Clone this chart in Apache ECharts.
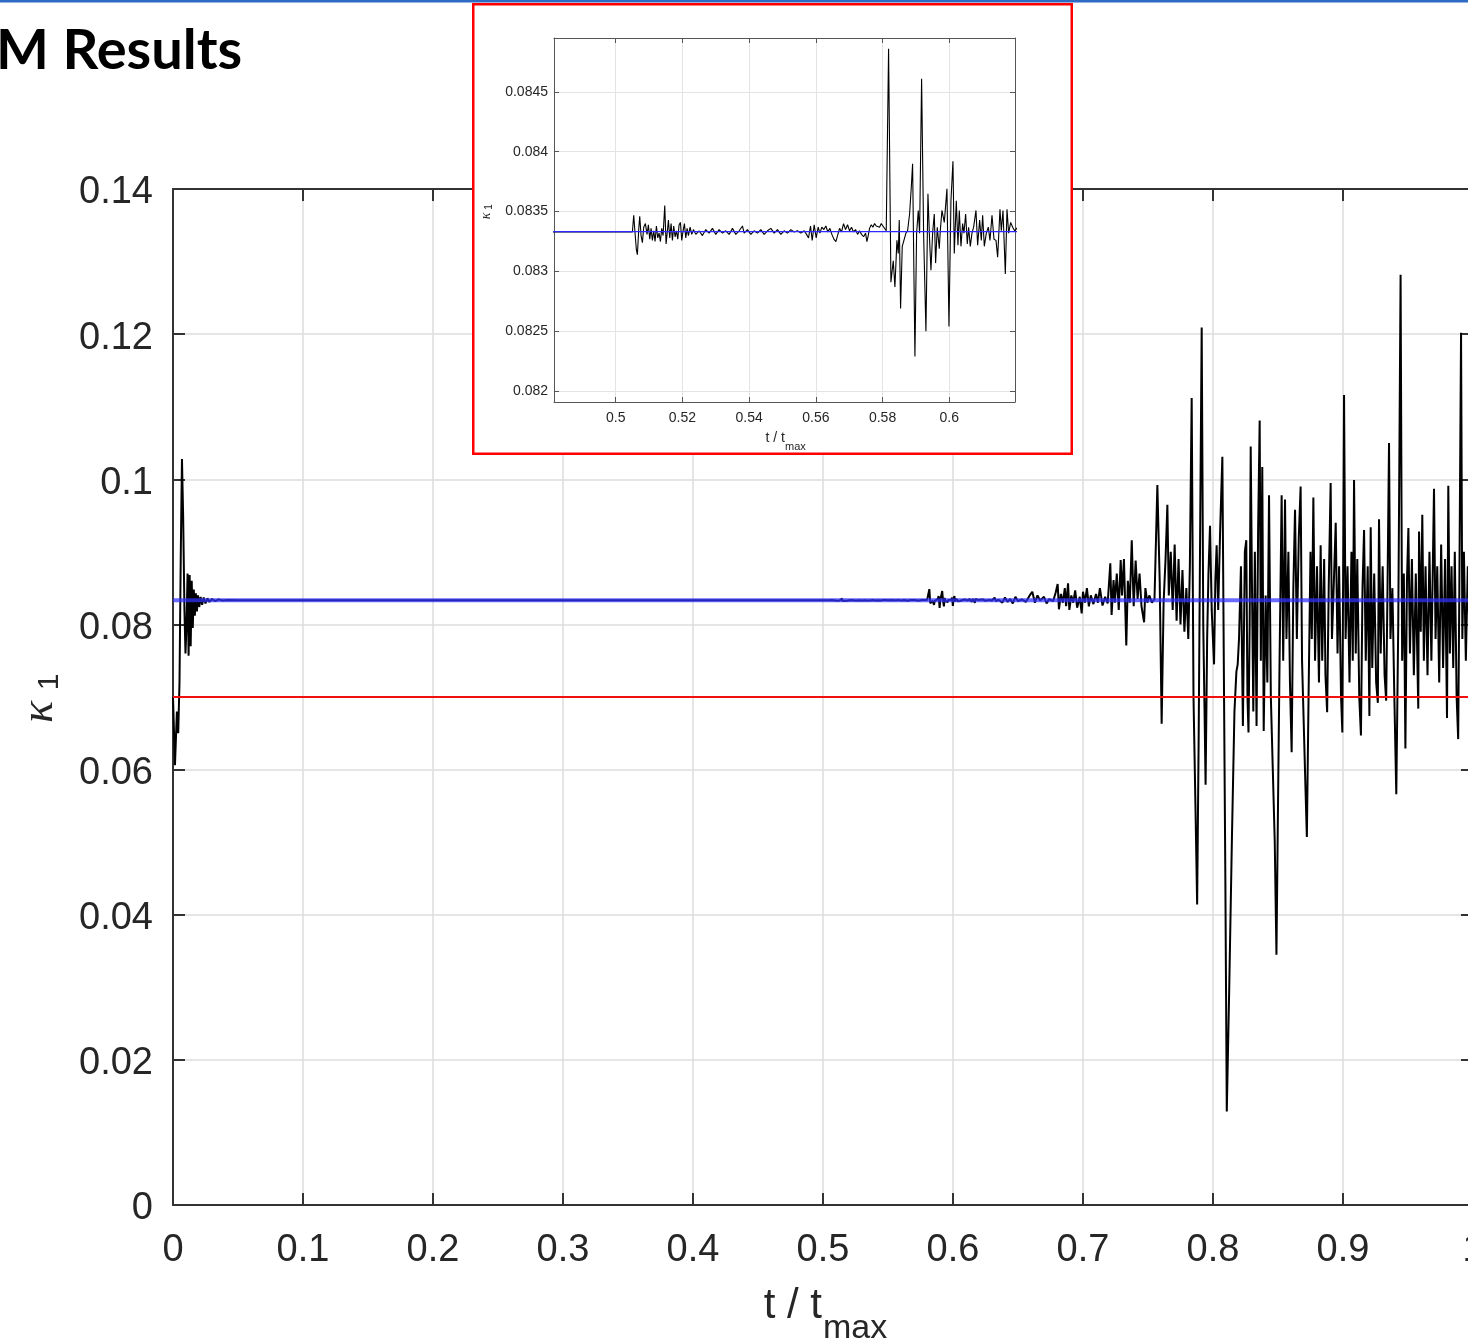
<!DOCTYPE html>
<html>
<head>
<meta charset="utf-8">
<script src="https://cdn.jsdelivr.net/npm/echarts@6/dist/echarts.min.js"></script>
<style>
html,body{margin:0;padding:0;background:#fff;}
#chart{width:1468px;height:1343px;}
</style>
</head>
<body>
<div id="chart"></div>
<script>
// ---- data ----
const kappaTrue = 0.083333;   // blue reference line
const kappaInit = 0.07;       // red line

// early transient (t/tmax, kappa1)
const kappaStart = [[0,0.0700],[0.0015,0.0606],[0.0030,0.0680],[0.0040,0.0650],[0.0050,0.0720],[0.0060,0.0900],[0.0069,0.1028],[0.0078,0.0950],[0.0088,0.0820],[0.0096,0.0760],[0.0104,0.0800],[0.0112,0.0870],[0.0120,0.0757],[0.0128,0.0868],[0.0136,0.0770],[0.0144,0.0860],[0.0152,0.0795],[0.0160,0.0848],[0.0168,0.0812],[0.0176,0.0843],[0.0184,0.0818],[0.0192,0.0840],[0.0202,0.0824],[0.0212,0.0838],[0.0224,0.0827],[0.0236,0.0837],[0.0250,0.0829],[0.0265,0.0836],[0.0280,0.0831],[0.0300,0.0835],[0.0325,0.0832],[0.0350,0.08345],[0.0380,0.0833],[0.0420,0.08336],[0.0500,0.08333]];

// converged plateau
const kappaFlat = [[0.1,0.08333],[0.2,0.08333],[0.3,0.08333],[0.4,0.08333],[0.5,0.08333],[0.505,0.08333]];

// region shown in the inset
const kappaInsetRange = [[0.5054,0.08347],[0.5058,0.08332],[0.5062,0.08318],[0.5065,0.08314],[0.5069,0.08335],[0.5072,0.08346],[0.5076,0.08330],[0.5080,0.08324],[0.5084,0.08337],[0.5089,0.08340],[0.5094,0.08331],[0.5098,0.08339],[0.5102,0.08327],[0.5106,0.08336],[0.5110,0.08326],[0.5114,0.08334],[0.5118,0.08325],[0.5122,0.08338],[0.5126,0.08328],[0.5130,0.08332],[0.5134,0.08325],[0.5138,0.08336],[0.5142,0.08330],[0.5147,0.08355],[0.5151,0.08323],[0.5155,0.08334],[0.5158,0.08343],[0.5162,0.08328],[0.5166,0.08340],[0.5170,0.08326],[0.5174,0.08338],[0.5178,0.08329],[0.5182,0.08334],[0.5186,0.08327],[0.5190,0.08339],[0.5194,0.08341],[0.5198,0.08326],[0.5202,0.08334],[0.5206,0.08340],[0.5210,0.08328],[0.5214,0.08336],[0.5218,0.08330],[0.5223,0.08337],[0.5228,0.08331],[0.5233,0.08335],
[0.5240,0.08331],[0.5250,0.08334],[0.5260,0.08330],[0.5270,0.08335],[0.5280,0.08332],[0.5290,0.08336],[0.5300,0.08331],[0.5310,0.08335],[0.5320,0.08332],[0.5330,0.08334],[0.5340,0.08331],[0.5350,0.08336],[0.5360,0.08331],[0.5370,0.08334],[0.5380,0.08338],[0.5385,0.08332],[0.5395,0.08335],[0.5405,0.08331],[0.5415,0.08334],[0.5425,0.08332],[0.5435,0.08335],[0.5445,0.08331],[0.5455,0.08334],[0.5465,0.08336],[0.5475,0.08332],[0.5485,0.08335],[0.5495,0.08331],[0.5505,0.08334],[0.5515,0.08332],[0.5525,0.08335],[0.5535,0.08333],[0.5545,0.08334],[0.5555,0.08332],[0.5565,0.08334],[0.5572,0.08331],
[0.5578,0.08328],[0.5584,0.08338],[0.5589,0.08326],[0.5595,0.08339],[0.5601,0.08328],[0.5607,0.08337],[0.5612,0.08332],[0.5618,0.08337],[0.5624,0.08335],[0.5630,0.08338],[0.5636,0.08333],[0.5642,0.08336],[0.5648,0.08331],[0.5654,0.08327],[0.5660,0.08325],[0.5665,0.08330],[0.5671,0.08336],[0.5677,0.08333],[0.5683,0.08340],[0.5689,0.08335],[0.5695,0.08339],[0.5701,0.08334],[0.5707,0.08337],[0.5713,0.08333],[0.5719,0.08335],[0.5725,0.08331],[0.5731,0.08334],[0.5737,0.08331],[0.5743,0.08329],[0.5749,0.08332],[0.5753,0.08325],[0.5757,0.08330],[0.5761,0.08336],[0.5766,0.08339],[0.5771,0.08337],[0.5776,0.08340],[0.5781,0.08338],[0.5786,0.08339],[0.5791,0.08337],[0.5796,0.08340],[0.5801,0.08338],[0.5806,0.08339],[0.5811,0.08334],[0.5815,0.08333],
[0.5818,0.08486],[0.5825,0.08291],[0.5832,0.08309],[0.5837,0.08287],[0.5843,0.08326],[0.5847,0.08315],[0.5850,0.08343],[0.5854,0.08269],[0.5859,0.08321],[0.5864,0.08326],[0.5870,0.08332],[0.5875,0.08334],[0.5881,0.08348],[0.5886,0.08370],[0.5890,0.08390],[0.5894,0.08390],[0.5897,0.08229],[0.5902,0.08332],[0.5907,0.08351],[0.5911,0.08332],[0.5917,0.08461],[0.5923,0.08332],[0.5930,0.08250],[0.5936,0.08365],[0.5941,0.08326],[0.5945,0.08301],[0.5950,0.08332],[0.5955,0.08348],[0.5959,0.08307],[0.5964,0.08337],[0.5970,0.08319],[0.5973,0.08334],[0.5978,0.08351],[0.5985,0.08341],[0.5993,0.08369],[0.5999,0.08254],[0.6005,0.08359],[0.6011,0.08392],[0.6015,0.08315],[0.6021,0.08359],[0.6026,0.08322],[0.6030,0.08351],[0.6035,0.08321],[0.6040,0.08340],[0.6044,0.08332],[0.6049,0.08348],[0.6054,0.08323],[0.6058,0.08337],[0.6063,0.08321],[0.6068,0.08332],[0.6073,0.08337],[0.6080,0.08351],[0.6085,0.08322],[0.6091,0.08343],[0.6096,0.08326],[0.6100,0.08347],[0.6105,0.08321],[0.6111,0.08332],[0.6117,0.08337],[0.6122,0.08326],[0.6128,0.08347],[0.6134,0.08327],[0.6140,0.08326],[0.6145,0.08312],[0.6152,0.08352],[0.6156,0.08334],[0.6161,0.08351],[0.6168,0.08298],[0.6173,0.08352],[0.6178,0.08332],[0.6184,0.08341],[0.6190,0.08337],[0.6196,0.08334]];

// moderate noise
const kappaMid = [[0.6200,0.08335],[0.6230,0.08345],[0.6250,0.08325],[0.6280,0.08338],[0.6300,0.08330],[0.6320,0.08370],[0.6330,0.08320],[0.6350,0.08340],[0.6380,0.08300],[0.6400,0.08370],[0.6420,0.08310],[0.6440,0.08350],[0.6460,0.08290],[0.6480,0.08380],[0.6500,0.08320],[0.6530,0.08345],[0.6560,0.08310],[0.6590,0.08400],[0.6610,0.08450],[0.6630,0.08300],[0.6650,0.08400],[0.6670,0.08330],[0.6700,0.08380],[0.6720,0.08290],[0.6740,0.08350],[0.6770,0.08320],[0.6790,0.08440],[0.6805,0.08557],[0.6815,0.08209],[0.6830,0.08420],[0.6845,0.08300],[0.6860,0.08500],[0.6870,0.08250],[0.6885,0.08567],[0.6895,0.08199],[0.6910,0.08400],[0.6925,0.08300],[0.6940,0.08470],[0.6955,0.08230],[0.6975,0.08380],[0.6990,0.08153],[0.7000,0.08450],[0.7015,0.08300],[0.7030,0.08500],[0.7045,0.08250],[0.7060,0.08400],[0.7080,0.08280],[0.7100,0.08420],[0.7115,0.08300],[0.7130,0.08500],[0.7150,0.08260],[0.7170,0.08380],[0.7190,0.08290],[0.7210,0.08842],[0.7220,0.08130],[0.7235,0.08612],[0.7245,0.08300],[0.7260,0.08700],[0.7275,0.08200],[0.7290,0.08888],[0.7300,0.08400],[0.7315,0.08900],[0.7333,0.07710],[0.7345,0.08600],[0.7360,0.08300],[0.7375,0.09160],[0.7390,0.08250],[0.7405,0.08880],[0.7420,0.08350],[0.7435,0.08700],[0.7450,0.08250],[0.7470,0.08030],[0.7480,0.08500],[0.7495,0.08300],[0.7510,0.08400],[0.7530,0.08300],[0.7550,0.08350]];

// strong oscillation
const kappaLate = [[0.7572,0.09920],[0.7590,0.08600],[0.7605,0.06630],[0.7620,0.08300],[0.7635,0.08900],[0.7649,0.09650],[0.7660,0.08400],[0.7675,0.09000],[0.7690,0.08200],[0.7705,0.09100],[0.7720,0.08050],[0.7735,0.08900],[0.7750,0.08000],[0.7765,0.08750],[0.7780,0.07900],[0.7795,0.08500],[0.7810,0.07800],[0.7822,0.08800],[0.7836,0.11120],[0.7850,0.07000],[0.7865,0.05500],[0.7878,0.04140],[0.7890,0.06500],[0.7902,0.09500],[0.7913,0.12090],[0.7925,0.08000],[0.7935,0.06800],[0.7943,0.05790],[0.7955,0.07800],[0.7965,0.08700],[0.7977,0.09360],[0.7990,0.08200],[0.8008,0.07450],[0.8018,0.08600],[0.8028,0.09090],[0.8040,0.08200],[0.8055,0.09300],[0.8072,0.10310],[0.8085,0.07000],[0.8095,0.04500],[0.8106,0.01290],[0.8125,0.03000],[0.8145,0.05000],[0.8165,0.06800],[0.8180,0.07350],[0.8190,0.07450],[0.8200,0.07800],[0.8215,0.08800],[0.8230,0.06600],[0.8245,0.09000],[0.8256,0.09160],[0.8265,0.07000],[0.8273,0.06510],[0.8282,0.08000],[0.8290,0.10450],[0.8300,0.08500],[0.8310,0.06800],[0.8322,0.09000],[0.8335,0.06600],[0.8347,0.09300],[0.8359,0.10810],[0.8368,0.07500],[0.8379,0.10170],[0.8390,0.06530],[0.8405,0.08400],[0.8418,0.07200],[0.8431,0.09780],[0.8445,0.07000],[0.8460,0.06000],[0.8475,0.05000],[0.8488,0.03450],[0.8500,0.05500],[0.8512,0.07500],[0.8528,0.09780],[0.8540,0.07500],[0.8554,0.09720],[0.8565,0.07800],[0.8580,0.09000],[0.8592,0.07200],[0.8605,0.06240],[0.8618,0.08500],[0.8631,0.09580],[0.8645,0.07800],[0.8660,0.09200],[0.8674,0.09900],[0.8685,0.07500],[0.8700,0.06500],[0.8712,0.05700],[0.8722,0.05070],[0.8735,0.07000],[0.8750,0.09000],[0.8760,0.07800],[0.8772,0.09750],[0.8785,0.07500],[0.8800,0.08800],[0.8815,0.07200],[0.8828,0.09090],[0.8840,0.07500],[0.8855,0.08900],[0.8865,0.07300],[0.8878,0.06790],[0.8890,0.08500],[0.8905,0.09950],[0.8915,0.07800],[0.8930,0.08600],[0.8944,0.09400],[0.8958,0.07600],[0.8970,0.08800],[0.8985,0.07000],[0.8995,0.06510],[0.9008,0.11160],[0.9020,0.07800],[0.9035,0.08800],[0.9050,0.07200],[0.9065,0.09000],[0.9075,0.07500],[0.9085,0.09990],[0.9098,0.07600],[0.9110,0.08900],[0.9125,0.07000],[0.9138,0.06470],[0.9150,0.08500],[0.9162,0.09300],[0.9175,0.07500],[0.9190,0.08800],[0.9203,0.06740],[0.9213,0.09340],[0.9225,0.07400],[0.9240,0.08700],[0.9255,0.07200],[0.9268,0.06920],[0.9277,0.09450],[0.9290,0.07600],[0.9305,0.08800],[0.9320,0.07300],[0.9332,0.06950],[0.9343,0.08600],[0.9354,0.10500],[0.9365,0.07800],[0.9380,0.08500],[0.9395,0.07000],[0.9410,0.05660],[0.9425,0.08000],[0.9443,0.12820],[0.9455,0.07500],[0.9468,0.08700],[0.9480,0.06290],[0.9492,0.08600],[0.9503,0.09330],[0.9515,0.07600],[0.9530,0.08900],[0.9545,0.07300],[0.9560,0.08700],[0.9572,0.07500],[0.9579,0.06840],[0.9585,0.09280],[0.9598,0.07900],[0.9610,0.09510],[0.9622,0.07500],[0.9635,0.08800],[0.9650,0.07300],[0.9665,0.09000],[0.9680,0.07500],[0.9700,0.09870],[0.9712,0.07800],[0.9725,0.08800],[0.9740,0.07200],[0.9755,0.09100],[0.9770,0.07400],[0.9785,0.08900],[0.9800,0.06710],[0.9810,0.09910],[0.9822,0.07600],[0.9835,0.08800],[0.9848,0.07400],[0.9860,0.09000],[0.9874,0.07000],[0.9886,0.06420],[0.9895,0.08500],[0.9908,0.12020],[0.9918,0.07800],[0.9930,0.09000],[0.9945,0.07500],[0.9960,0.08800],[0.9975,0.07700],[0.9990,0.08900],[1.0000,0.08000]];

const kappaData = [].concat(kappaStart, kappaFlat, kappaInsetRange, kappaMid, kappaLate);
const trueLine = [[0, kappaTrue], [1, kappaTrue]];
const initLine = [[0, kappaInit], [1, kappaInit]];

// ---- chart ----
const chart = echarts.init(document.getElementById('chart'), null, {renderer: 'canvas'});
const AX = '#333';
const TXT = '#262626';
const FONT = 'Liberation Sans';

function mainAxis(pos, isY, showLabel) {
  const label = {show: showLabel, fontSize: 38, fontFamily: FONT, color: TXT, margin: isY ? 20 : 27};
  if (isY) { label.verticalAlign = 'top'; label.lineHeight = 8; }
  return {
    gridIndex: 0, type: 'value', position: pos,
    min: 0, max: isY ? 0.14 : 1, interval: isY ? 0.02 : 0.1,
    axisLine: {show: true, onZero: false, lineStyle: {color: AX, width: 2}},
    axisTick: {show: true, inside: true, length: 12, lineStyle: {color: AX, width: 2}},
    axisLabel: label,
    splitLine: {show: showLabel, lineStyle: {color: '#dcdcdc', width: 1.5}},
    z: 0
  };
}
function insetAxis(pos, isY, showLabel) {
  return {
    gridIndex: 1, type: 'value', position: pos,
    min: isY ? 0.08191 : 0.4815, max: isY ? 0.08495 : 0.6197,
    splitNumber: isY ? 6 : 7, scale: true,
    axisLine: {show: true, onZero: false, lineStyle: {color: '#555', width: 1}},
    axisTick: {show: true, inside: true, length: 5, lineStyle: {color: '#555', width: 1}},
    axisLabel: {show: showLabel, fontSize: 14, fontFamily: FONT, color: TXT, margin: isY ? 6 : 9,
                showMinLabel: false, showMaxLabel: false},
    splitLine: {show: showLabel, lineStyle: {color: '#e3e3e3', width: 1}},
    z: 110
  };
}

const option = {
  animation: false,
  backgroundColor: '#fff',
  grid: [
    {left: 173, top: 189, width: 1300, height: 1016, outerBoundsMode: 'none', containLabel: false},
    {left: 554, top: 38, width: 461, height: 364, outerBoundsMode: 'none', containLabel: false}
  ],
  xAxis: [mainAxis('bottom', false, true), mainAxis('top', false, false),
          insetAxis('bottom', false, true), insetAxis('top', false, false)],
  yAxis: [mainAxis('left', true, true), mainAxis('right', true, false),
          insetAxis('left', true, true), insetAxis('right', true, false)],
  series: [
    {type: 'line', xAxisIndex: 0, yAxisIndex: 0, data: kappaData, showSymbol: false, silent: true,
     lineStyle: {color: '#000', width: 2}, z: 2},
    {type: 'line', xAxisIndex: 0, yAxisIndex: 0, data: trueLine, showSymbol: false, silent: true,
     lineStyle: {color: 'rgba(50,50,255,0.72)', width: 4}, z: 3},
    {type: 'line', xAxisIndex: 0, yAxisIndex: 0, data: initLine, showSymbol: false, silent: true,
     lineStyle: {color: '#f01010', width: 2}, z: 4},
    {type: 'line', xAxisIndex: 2, yAxisIndex: 2, data: kappaData, showSymbol: false, silent: true,
     lineStyle: {color: '#000', width: 1.1}, z: 120},
    {type: 'line', xAxisIndex: 2, yAxisIndex: 2, data: trueLine, showSymbol: false, silent: true,
     lineStyle: {color: '#2a2aff', width: 1.3}, z: 121}
  ],
  graphic: {elements: [
    {type: 'rect', shape: {x: 0, y: 0, width: 1468, height: 2.5}, style: {fill: '#2e6ac4'}, z: 200},
    {type: 'text', x: -4, y: 51, z: 200,
     style: {text: 'M Results', fontSize: 56, fontWeight: 'bold', fontFamily: 'Lato', fill: '#000',
             align: 'left', verticalAlign: 'middle'}},
    {type: 'rect', shape: {x: 473.25, y: 4.25, width: 598.5, height: 449.5},
     style: {fill: '#fff', stroke: '#ff0000', lineWidth: 2.5}, z: 100},
    // main y label
    {type: 'text', x: 40, y: 712, rotation: Math.PI / 2, z: 200,
     style: {text: 'κ', fontSize: 46, fontStyle: 'italic', fontFamily: 'Liberation Serif', fill: TXT, align: 'center', verticalAlign: 'middle'}},
    {type: 'text', x: 50, y: 682, rotation: Math.PI / 2, z: 200,
     style: {text: '1', fontSize: 30, fontFamily: FONT, fill: TXT, align: 'center', verticalAlign: 'middle'}},
    // main x label
    {type: 'text', x: 822, y: 1306, z: 200,
     style: {text: 't / t', fontSize: 42, fontFamily: FONT, fill: TXT, align: 'right', verticalAlign: 'middle'}},
    {type: 'text', x: 823, y: 1329, z: 200,
     style: {text: 'max', fontSize: 34, fontFamily: FONT, fill: TXT, align: 'left', verticalAlign: 'middle'}},
    // inset labels
    {type: 'text', x: 486, y: 216, rotation: Math.PI / 2, z: 200,
     style: {text: 'κ', fontSize: 14, fontStyle: 'italic', fontFamily: 'Liberation Serif', fill: TXT, align: 'center', verticalAlign: 'middle'}},
    {type: 'text', x: 489, y: 207, rotation: Math.PI / 2, z: 200,
     style: {text: '1', fontSize: 10, fontFamily: FONT, fill: TXT, align: 'center', verticalAlign: 'middle'}},
    {type: 'text', x: 785, y: 438, z: 200,
     style: {text: 't / t', fontSize: 14, fontFamily: FONT, fill: TXT, align: 'right', verticalAlign: 'middle'}},
    {type: 'text', x: 785, y: 447, z: 200,
     style: {text: 'max', fontSize: 11, fontFamily: FONT, fill: TXT, align: 'left', verticalAlign: 'middle'}}
  ]}
};
chart.setOption(option);
</script>
</body>
</html>
